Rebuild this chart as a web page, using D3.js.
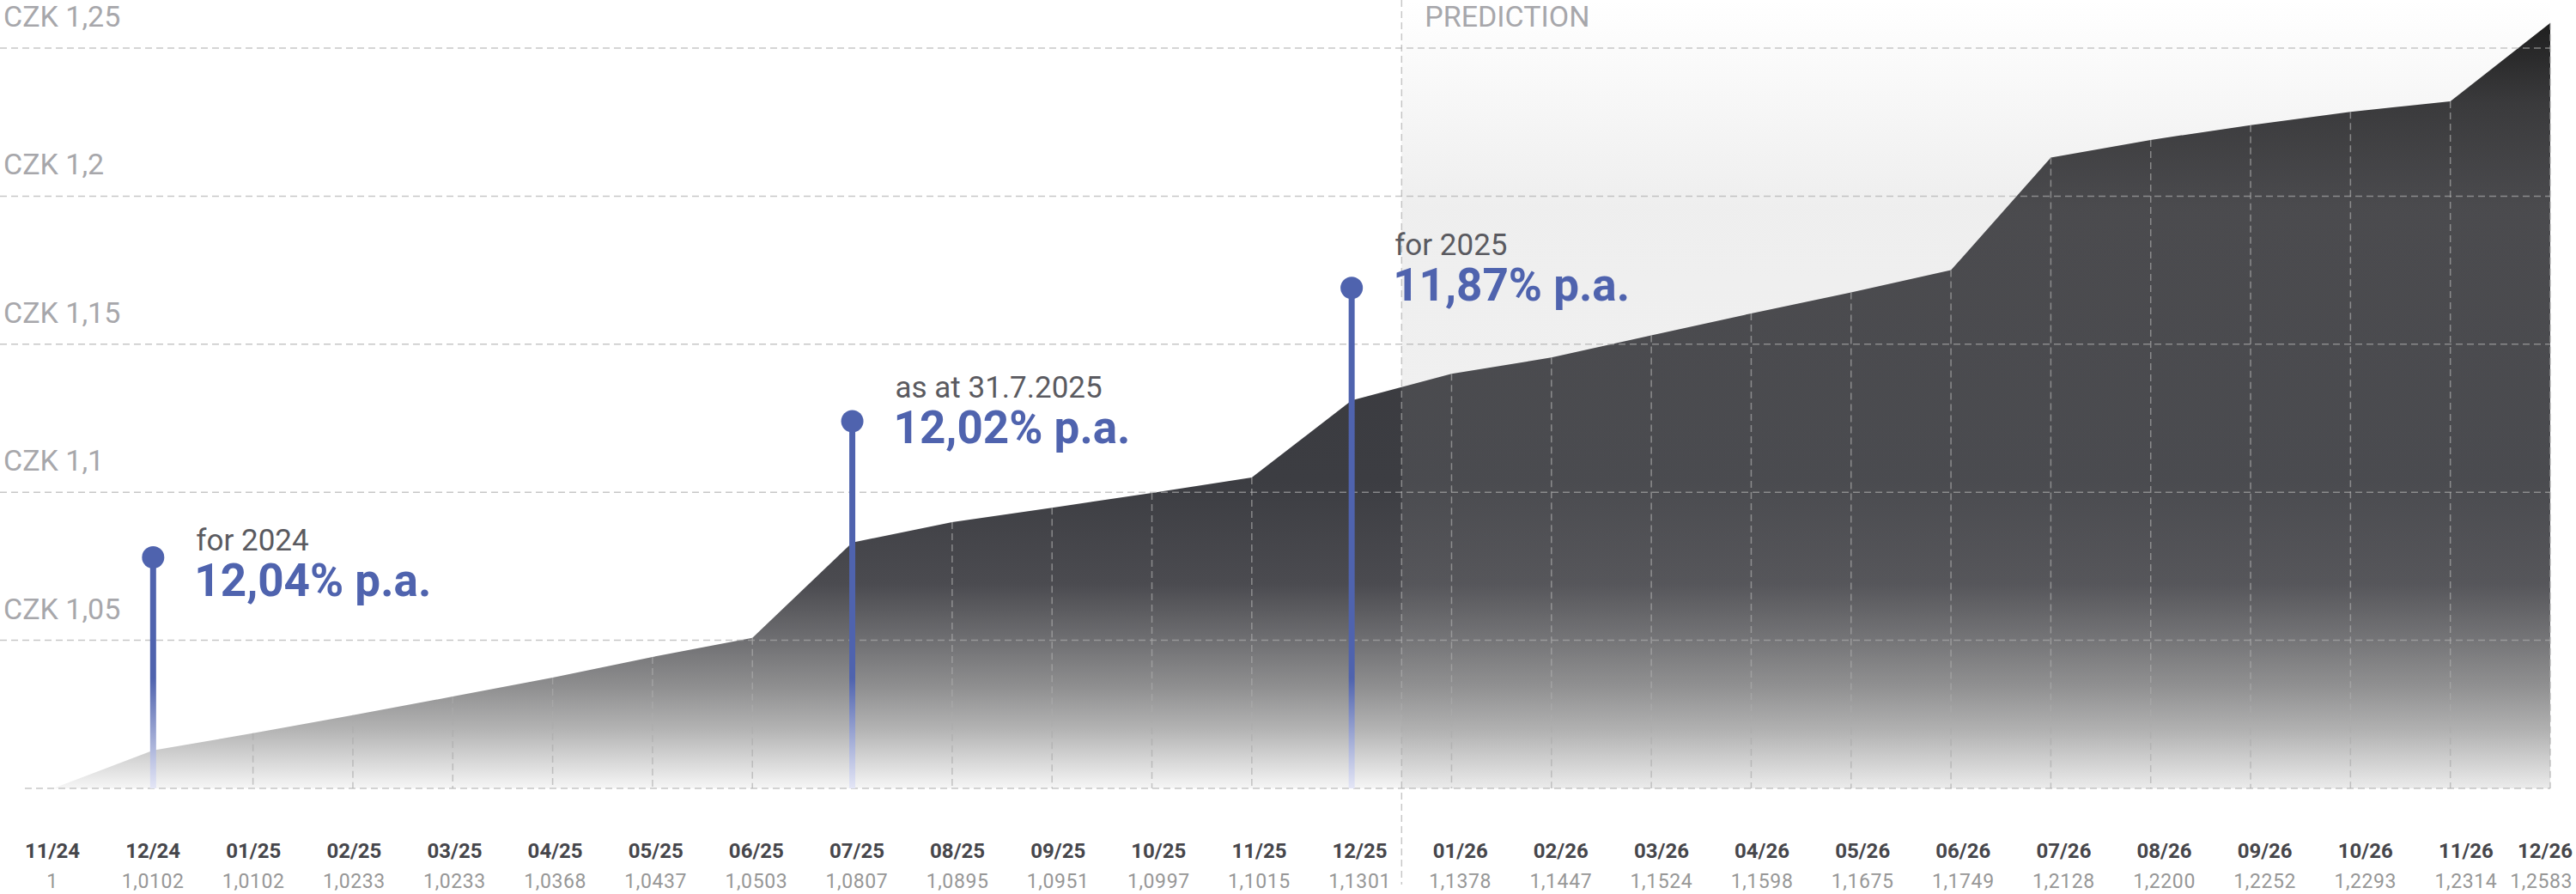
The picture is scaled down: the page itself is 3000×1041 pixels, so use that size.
<!DOCTYPE html>
<html>
<head>
<meta charset="utf-8">
<script src="https://cdn.jsdelivr.net/npm/d3@7"></script>
<style>
  html, body { margin: 0; padding: 0; background: #fff; }
  svg { display: block; font-family: Roboto, sans-serif; }
</style>
</head>
<body>
<div id="chart"></div>
<script>
// months on the x axis
var months = ['11/24', '12/24', '01/25', '02/25', '03/25', '04/25', '05/25', '06/25', '07/25',
  '08/25', '09/25', '10/25', '11/25', '12/25', '01/26', '02/26', '03/26', '04/26', '05/26',
  '06/26', '07/26', '08/26', '09/26', '10/26', '11/26', '12/26'];
// value printed under each month
var values = [1, 1.0102, 1.0102, 1.0233, 1.0233, 1.0368, 1.0437, 1.0503, 1.0807,
  1.0895, 1.0951, 1.0997, 1.1015, 1.1301, 1.1378, 1.1447, 1.1524, 1.1598, 1.1675,
  1.1749, 1.2128, 1.2200, 1.2252, 1.2293, 1.2314, 1.2583];
// top edge of the shaded area
var curve = [1, 1.0128, 1.0186, 1.0247, 1.0310, 1.0374, 1.0444, 1.0508, 1.0830,
  1.0899, 1.0948, 1.0998, 1.1050, 1.1310, 1.1400, 1.1455, 1.1530, 1.1604, 1.1675,
  1.1750, 1.2130, 1.2190, 1.2240, 1.2285, 1.2320, 1.2585];
var yTicks = [1.05, 1.1, 1.15, 1.2, 1.25];
var lastActual = '12/25';

// pins
var pinMonths = ['12/24', '07/25', '12/25'];
var pinLevels = [1.078, 1.124, 1.169];
var pinCaptions = ['for 2024', 'as at 31.7.2025', 'for 2025'];
var pinRates = ['12,04% p.a.', '12,02% p.a.', '11,87% p.a.'];

(function () {
  var width = 3000;
  var height = 1041;
  var blue = '#4f63ae';
  var gridColor = '#acacac';

  var locale = d3.formatLocale({ decimal: ',', thousands: ' ', grouping: [3], currency: ['', ''] });
  var fmtTick = locale.format('~g');
  var fmtValue = locale.format('.4f');

  var x = d3.scalePoint().domain(months).range([62, 2970]);
  var xLabel = d3.scalePoint().domain(months).range([61, 2989]);
  var y = d3.scaleLinear().domain([1, 1.25]).range([918, 56]);

  var svg = d3.select('#chart').append('svg')
    .attr('width', width)
    .attr('height', height);

  var defs = svg.append('defs');

  // dark fill, fading to white near the base
  var areaStops = [[26, '#1c1c1c'], [120, '#313133'], [250, '#3a3a3e'], [560, '#3c3d42'],
    [680, '#4b4b50'], [742, '#6d6d70'], [800, '#8f8f90'], [850, '#b4b4b4'],
    [900, '#e4e4e4'], [918, '#f6f6f6']];
  defs.append('linearGradient')
    .attr('id', 'areaFill')
    .attr('gradientUnits', 'userSpaceOnUse')
    .attr('x1', 0).attr('y1', 0).attr('x2', 0).attr('y2', 918)
    .selectAll('stop')
    .data(areaStops)
    .enter()
    .append('stop')
    .attr('offset', function (d) { return d[0] / 918; })
    .attr('stop-color', function (d) { return d[1]; });

  // prediction shade
  var shadeStops = [[0, 0], [30, 0.02], [240, 0.17], [918, 0.12]];
  defs.append('linearGradient')
    .attr('id', 'shadeFill')
    .attr('gradientUnits', 'userSpaceOnUse')
    .attr('x1', 0).attr('y1', 0).attr('x2', 0).attr('y2', 918)
    .selectAll('stop')
    .data(shadeStops)
    .enter()
    .append('stop')
    .attr('offset', function (d) { return d[0] / 918; })
    .attr('stop-color', 'rgb(157,157,157)')
    .attr('stop-opacity', function (d) { return d[1]; });

  // pin stem fades out at the bottom
  var stem = defs.append('linearGradient')
    .attr('id', 'stemFill')
    .attr('gradientUnits', 'userSpaceOnUse')
    .attr('x1', 0).attr('y1', 790).attr('x2', 0).attr('y2', 918);
  stem.append('stop').attr('offset', 0).attr('stop-color', blue);
  stem.append('stop').attr('offset', 1).attr('stop-color', '#e4e6f6');

  var points = months.map(function (m, i) { return { month: m, v: curve[i] }; });

  var area = d3.area()
    .x(function (d) { return x(d.month); })
    .y0(y(1))
    .y1(function (d) { return y(d.v); })
    .curve(d3.curveLinear);

  svg.append('path')
    .datum(points)
    .attr('d', area)
    .attr('fill', 'url(#areaFill)');

  var splitX = (x(lastActual) + x(months[months.indexOf(lastActual) + 1])) / 2;

  svg.append('rect')
    .attr('x', splitX)
    .attr('y', 0)
    .attr('width', x(months[months.length - 1]) - splitX)
    .attr('height', y(1))
    .attr('fill', 'url(#shadeFill)');

  // horizontal grid
  svg.append('g')
    .selectAll('line')
    .data([1].concat(yTicks))
    .enter()
    .append('line')
    .attr('x1', function (d) { return d === 1 ? 29 : 0; })
    .attr('x2', x(months[months.length - 1]))
    .attr('y1', function (d) { return y(d); })
    .attr('y2', function (d) { return y(d); })
    .attr('stroke', gridColor)
    .attr('stroke-opacity', 0.67)
    .attr('stroke-width', 1.5)
    .attr('stroke-dasharray', '8,5');

  // drop lines
  svg.append('g')
    .selectAll('line')
    .data(points.slice(1))
    .enter()
    .append('line')
    .attr('x1', function (d) { return x(d.month); })
    .attr('x2', function (d) { return x(d.month); })
    .attr('y1', function (d) { return y(d.v); })
    .attr('y2', y(1))
    .attr('stroke', gridColor)
    .attr('stroke-opacity', 0.67)
    .attr('stroke-width', 1.5)
    .attr('stroke-dasharray', '8,5');

  svg.append('line')
    .attr('x1', splitX).attr('x2', splitX)
    .attr('y1', 0).attr('y2', 1030)
    .attr('stroke', gridColor)
    .attr('stroke-opacity', 0.67)
    .attr('stroke-width', 1.5)
    .attr('stroke-dasharray', '8,5');

  svg.append('text')
    .attr('x', splitX + 27)
    .attr('y', 31)
    .style('font-size', '34px')
    .attr('fill', '#a7a7ab')
    .text('PREDICTION');

  // y labels
  svg.append('g')
    .selectAll('text')
    .data(yTicks)
    .enter()
    .append('text')
    .attr('x', 4)
    .attr('y', function (d) { return y(d) - 25; })
    .style('font-size', '34px')
    .attr('fill', '#a7a7ab')
    .text(function (d) { return 'CZK ' + fmtTick(d); });

  // x labels
  var last = months[months.length - 1];
  var xl = svg.append('g')
    .selectAll('g')
    .data(months)
    .enter()
    .append('g')
    .attr('transform', function (d) {
      return 'translate(' + (d === last ? 2996 : xLabel(d)) + ',0)';
    })
    .attr('text-anchor', function (d) { return d === last ? 'end' : 'middle'; });
  xl.append('text')
    .attr('y', 999)
    .style('font-size', '24px')
    .style('font-weight', 'bold')
    .attr('fill', '#46464b')
    .text(function (d) { return d; });
  xl.append('text')
    .attr('y', 1034)
    .style('font-size', '23px')
    .style('letter-spacing', '0.6px')
    .attr('fill', '#979797')
    .text(function (d, i) { return values[i] === 1 ? '1' : fmtValue(values[i]); });

  // pins
  var captionDy = [-8, -27, -38];
  var pin = svg.append('g')
    .selectAll('g')
    .data(pinMonths)
    .enter()
    .append('g');
  pin.append('line')
    .attr('x1', function (d) { return x(d); })
    .attr('x2', function (d) { return x(d); })
    .attr('y1', function (d, i) { return y(pinLevels[i]); })
    .attr('y2', y(1))
    .attr('stroke', 'url(#stemFill)')
    .attr('stroke-width', 7);
  pin.append('circle')
    .attr('cx', function (d) { return x(d); })
    .attr('cy', function (d, i) { return y(pinLevels[i]); })
    .attr('r', 13)
    .attr('fill', blue);
  pin.append('text')
    .attr('x', function (d) { return x(d) + 50; })
    .attr('y', function (d, i) { return y(pinLevels[i]) + captionDy[i]; })
    .style('font-size', '35px')
    .attr('fill', '#5a5a60')
    .text(function (d, i) { return pinCaptions[i]; });
  pin.append('text')
    .attr('x', function (d) { return x(d) + 48; })
    .attr('y', function (d, i) { return y(pinLevels[i]) + captionDy[i] + 53; })
    .style('font-size', '53px')
    .style('font-weight', 'bold')
    .attr('fill', blue)
    .text(function (d, i) { return pinRates[i]; });
})();
</script>
</body>
</html>
